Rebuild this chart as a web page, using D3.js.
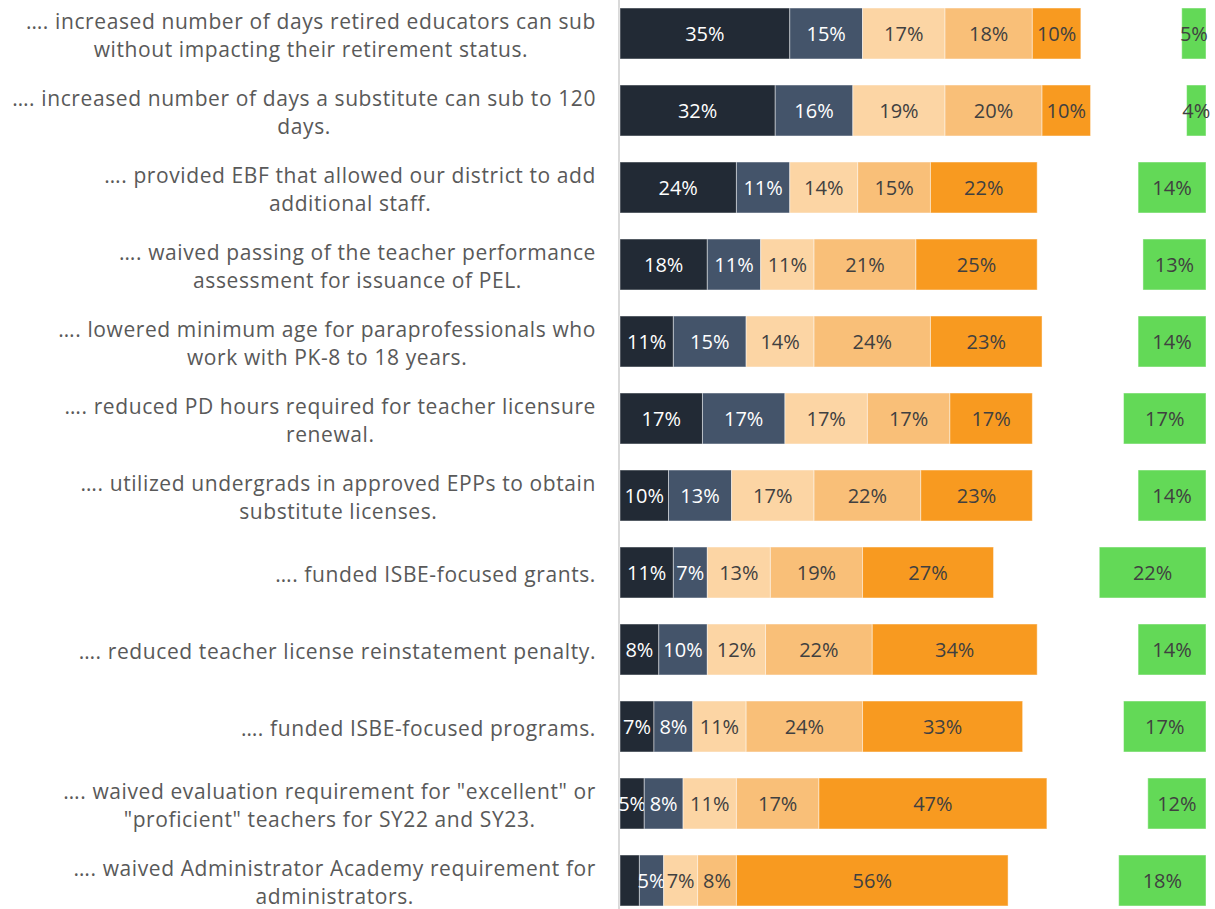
<!DOCTYPE html>
<html>
<head>
<meta charset="utf-8">
<script src="https://cdn.jsdelivr.net/npm/d3@7"></script>
<style>
  html, body { margin: 0; padding: 0; background: #ffffff; }
  svg { display: block; }
  text { font-family: "Open Sans", "Noto Sans", "DejaVu Sans", sans-serif; }
</style>
</head>
<body>
<svg id="chart" width="1215" height="909"></svg>
<script>
// Survey statements (each line of a wrapped label is its own entry)
const categories = [
  ["…. increased number of days retired educators can sub", "without impacting their retirement status."],
  ["…. increased number of days a substitute can sub to 120", "days."],
  ["…. provided EBF that allowed our district to add", "additional staff."],
  ["…. waived passing of the teacher performance", "assessment for issuance of PEL."],
  ["…. lowered minimum age for paraprofessionals who", "work with PK-8 to 18 years."],
  ["…. reduced PD hours required for teacher licensure", "renewal."],
  ["…. utilized undergrads in approved EPPs to obtain", "substitute licenses."],
  ["…. funded ISBE-focused grants."],
  ["…. reduced teacher license reinstatement penalty."],
  ["…. funded ISBE-focused programs."],
  ["…. waived evaluation requirement for \"excellent\" or", "\"proficient\" teachers for SY22 and SY23."],
  ["…. waived Administrator Academy requirement for", "administrators."]
];

// Response shares (%) per statement, in stacking order
const level1 = [35, 32, 24, 18, 11, 17, 10, 11, 8, 7, 5, 4];
const level2 = [15, 16, 11, 11, 15, 17, 13, 7, 10, 8, 8, 5];
const level3 = [17, 19, 14, 11, 14, 17, 17, 13, 12, 11, 11, 7];
const level4 = [18, 20, 15, 21, 24, 17, 22, 19, 22, 24, 17, 8];
const level5 = [10, 10, 22, 25, 23, 17, 23, 27, 34, 33, 47, 56];
// Separate response shown at the right-hand end of each row
const other  = [5, 4, 14, 13, 14, 17, 14, 22, 14, 17, 12, 18];

// Segment labels left off the chart: [row, series index]
const hiddenLabels = [[11, 0]];

const stackSeries = [
  { key: "level1", values: level1, fill: "#222a35", text: "#ffffff" },
  { key: "level2", values: level2, fill: "#44546a", text: "#ffffff" },
  { key: "level3", values: level3, fill: "#fcd5a4", text: "#404040" },
  { key: "level4", values: level4, fill: "#f9bf78", text: "#404040" },
  { key: "level5", values: level5, fill: "#f89a20", text: "#404040" }
];
const otherStyle = { fill: "#63d957", text: "#404040" };

const svg = d3.select("#chart");
const plotLeft = 620, plotRight = 1206;
const axisMax = 120.8;

const rows = d3.range(categories.length);
const x = d3.scaleLinear().domain([0, axisMax]).range([plotLeft, plotRight]);
const y = d3.scaleBand().domain(rows).range([-5, 919])
  .paddingInner(0.338).paddingOuter(0.169);

// Build stacked rows
const table = rows.map(i => {
  const o = { row: i };
  stackSeries.forEach(s => { o[s.key] = s.values[i]; });
  return o;
});
const stacked = d3.stack().keys(stackSeries.map(s => s.key))(table);
const hidden = new Set(hiddenLabels.map(d => d.join("-")));

// Category axis line
svg.append("line")
  .attr("x1", plotLeft - 1).attr("x2", plotLeft - 1)
  .attr("y1", 0).attr("y2", 909)
  .attr("stroke", "#d9d9d9").attr("stroke-width", 2);

const fs = 20;

// Stacked segments
stacked.forEach((layer, si) => {
  const s = stackSeries[si];
  const g = svg.append("g");
  g.selectAll("rect").data(layer).join("rect")
    .attr("x", d => x(d[0]))
    .attr("width", d => x(d[1]) - x(d[0]))
    .attr("y", (d, i) => y(i))
    .attr("height", y.bandwidth())
    .attr("fill", s.fill)
    .attr("stroke", "#ffffff").attr("stroke-opacity", 0.45).attr("stroke-width", 1);
  g.selectAll("text").data(layer).join("text")
    .filter((d, i) => !hidden.has(i + "-" + si))
    .attr("x", d => (x(d[0]) + x(d[1])) / 2)
    .attr("y", (d, i) => y(i) + y.bandwidth() / 2)
    .attr("dy", "0.36em")
    .attr("text-anchor", "middle")
    .attr("font-size", fs)
    .attr("fill", s.text)
    .text((d, i) => s.values[i] + "%");
});

// Right-hand response bars, aligned to the end of the axis
const og = svg.append("g");
og.selectAll("rect").data(other).join("rect")
  .attr("x", d => x(axisMax - d))
  .attr("width", d => x(axisMax) - x(axisMax - d))
  .attr("y", (d, i) => y(i))
  .attr("height", y.bandwidth())
  .attr("fill", otherStyle.fill)
  .attr("stroke", "#ffffff").attr("stroke-opacity", 0.45).attr("stroke-width", 1);
og.selectAll("text").data(other).join("text")
  .attr("x", d => (x(axisMax - d) + x(axisMax)) / 2)
  .attr("y", (d, i) => y(i) + y.bandwidth() / 2)
  .attr("dy", "0.36em")
  .attr("text-anchor", "middle")
  .attr("font-size", fs)
  .attr("fill", otherStyle.text)
  .text(d => d + "%");

// Category labels: lines centred on each other, block right-aligned to the axis
const labelRight = 596, lineH = 28, labelSize = 21;
const lg = svg.append("g");
categories.forEach((lines, i) => {
  const cy = y(i) + y.bandwidth() / 2 + 1.5;
  const t = lg.append("text")
    .attr("font-size", labelSize)
    .attr("letter-spacing", "0.6px")
    .attr("fill", "#595959")
    .attr("text-anchor", "middle");
  const spans = lines.map((ln, k) => t.append("tspan")
    .attr("y", cy + (k - (lines.length - 1) / 2) * lineH + 0.36 * labelSize)
    .text(ln));
  const maxW = d3.max(spans, sp => sp.node().getComputedTextLength());
  const cx = labelRight - maxW / 2;
  spans.forEach(sp => sp.attr("x", cx));
});
</script>
</body>
</html>
